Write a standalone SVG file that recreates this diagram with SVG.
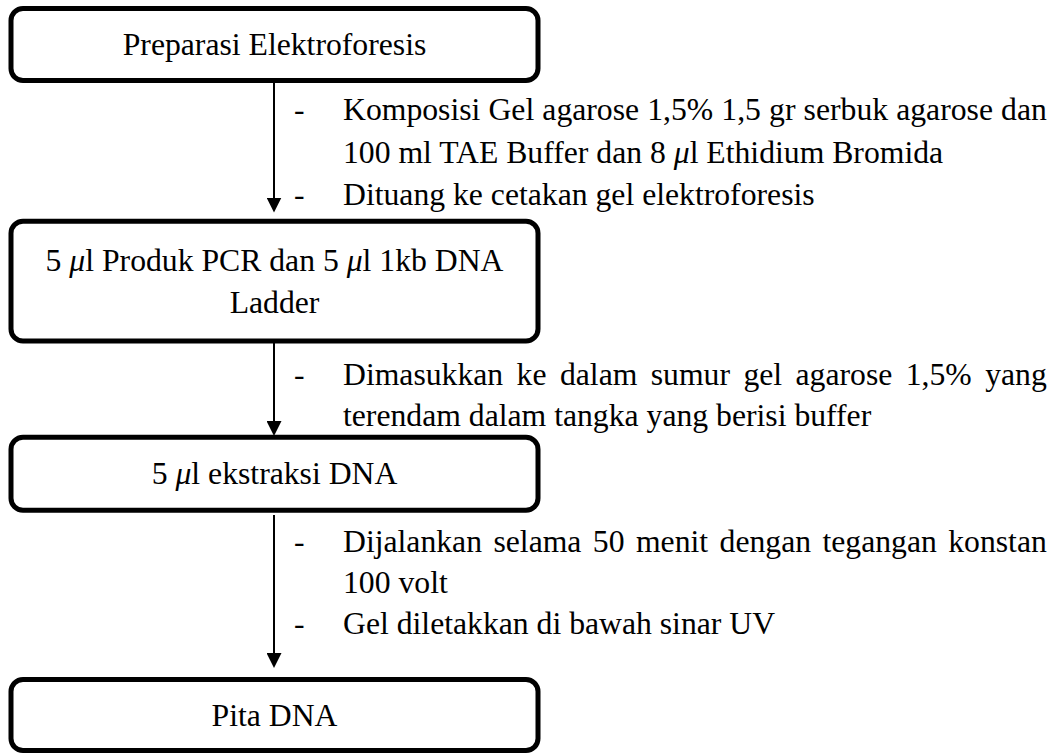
<svg xmlns="http://www.w3.org/2000/svg" width="1056" height="754" viewBox="0 0 1056 754" font-family="'Liberation Serif', Tinos, 'Times New Roman', Times, serif" font-size="31.7">
<style>
text{font-family:'Liberation Serif',Tinos,'Times New Roman',Times,serif;font-size:31.7px;fill:#000}
.c{text-anchor:middle}
.box{fill:#fff;stroke:#000;stroke-width:5}
.con{stroke:#000;stroke-width:2;fill:none}
.mu{font-style:italic}
</style>
<defs>
<marker id="ah" markerUnits="userSpaceOnUse" viewBox="0 0 15 15" markerWidth="15" markerHeight="15" refX="10" refY="7.5" orient="auto">
<path d="M0,0 L15,7.5 L0,15 z" fill="#000"/>
</marker>
</defs>
<rect width="1056" height="754" fill="#fff"/>
<g id="connectors">
<path class="con" d="M274,83 V207.5" marker-end="url(#ah)"/>
<path class="con" d="M274,343 V431" marker-end="url(#ah)"/>
<path class="con" d="M274,515 V663" marker-end="url(#ah)"/>
</g>
<g id="node1">
<rect class="box" x="11" y="8.5" width="527" height="72" rx="12"/>
<text class="c" x="274.5" y="55">Preparasi Elektroforesis</text>
</g>
<g id="node2">
<rect class="box" x="11" y="221.3" width="527" height="119.7" rx="12"/>
<text class="c" x="274.5" y="270.5">5 <tspan class="mu">μ</tspan>l Produk PCR dan 5 <tspan class="mu">μ</tspan>l 1kb DNA</text>
<text class="c" x="274.5" y="312.5">Ladder</text>
</g>
<g id="node3">
<rect class="box" x="11" y="437.3" width="527" height="73" rx="12"/>
<text class="c" x="274.5" y="484">5 <tspan class="mu">μ</tspan>l ekstraksi DNA</text>
</g>
<g id="node4">
<rect class="box" x="11" y="679.5" width="527" height="71" rx="12"/>
<text class="c" x="274.5" y="725.5">Pita DNA</text>
</g>
<g id="label1">
<text x="294" y="120">-</text>
<text x="343" y="120" word-spacing="0.2">Komposisi Gel agarose 1,5% 1,5 gr serbuk agarose dan</text>
<text x="343" y="162.5">100 ml TAE Buffer dan 8 <tspan class="mu">μ</tspan>l Ethidium Bromida</text>
<text x="294" y="205">-</text>
<text x="343" y="205">Dituang ke cetakan gel elektroforesis</text>
</g>
<g id="label2">
<text x="294" y="384.5">-</text>
<text x="343" y="384.5" word-spacing="5.5">Dimasukkan ke dalam sumur gel agarose 1,5% yang</text>
<text x="343" y="426">terendam dalam tangka yang berisi buffer</text>
</g>
<g id="label3">
<text x="294" y="551.5">-</text>
<text x="343" y="551.5" word-spacing="3.5">Dijalankan selama 50 menit dengan tegangan konstan</text>
<text x="343" y="592.5">100 volt</text>
<text x="294" y="633.5">-</text>
<text x="343" y="633.5">Gel diletakkan di bawah sinar UV</text>
</g>
</svg>
